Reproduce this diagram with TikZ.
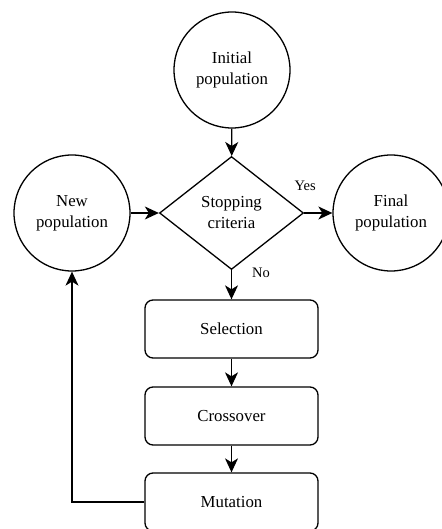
\documentclass[tikz,border=0pt]{standalone}
\usepackage{fontspec}
\setmainfont{Liberation Serif}
\usetikzlibrary{arrows.meta}
\usetikzlibrary{shapes.geometric}

\begin{document}
\begin{tikzpicture}[x=1pt,y=1pt,
    every node/.style={font=\fontsize{16.8}{21}\selectfont, align=center},
    popcircle/.style={draw, circle, line width=1.3pt, minimum size=116pt, inner sep=0pt},
    decision/.style={draw, diamond, line width=1.3pt, aspect=1.27, minimum width=144pt, minimum height=113pt, inner sep=0pt},
    opbox/.style={draw, rectangle, rounded corners=8pt, line width=1.3pt, minimum width=173pt, minimum height=58pt},
    lbl/.style={font=\fontsize{14.5}{16}\selectfont, inner sep=0pt},
    arr/.style={-{Stealth[length=14pt,width=13pt,inset=4pt]}, line width=1.3pt}]
    \useasboundingbox (0,0) rectangle (441,-529);
    \node[popcircle] (init) at (232,-70) {Initial\\population};
    \node[decision] (stop) at (231.5,-213) {Stopping\\criteria};
    \node[popcircle] (new) at (72,-213) {New\\population};
    \node[popcircle] (final) at (391,-213) {Final\\population};
    \node[opbox] (sel) at (231.5,-329) {Selection};
    \node[opbox] (cross) at (231.5,-416) {Crossover};
    \node[opbox] (mut) at (231.5,-502) {Mutation};
    \draw[arr] (init) -- (stop);
    \draw[arr] (new) -- (stop);
    \draw[arr] (stop.east) -- (final) node[lbl, at start, anchor=base, xshift=1pt, yshift=23pt] {Yes};
    \draw[arr] (stop.south) -- (sel) node[lbl, at start, anchor=base west, xshift=20pt, yshift=-7pt] {No};
    \draw[arr] (sel) -- (cross);
    \draw[arr] (cross) -- (mut);
    \draw[arr] (mut.west) -| (new.south);
\end{tikzpicture}
\end{document}
